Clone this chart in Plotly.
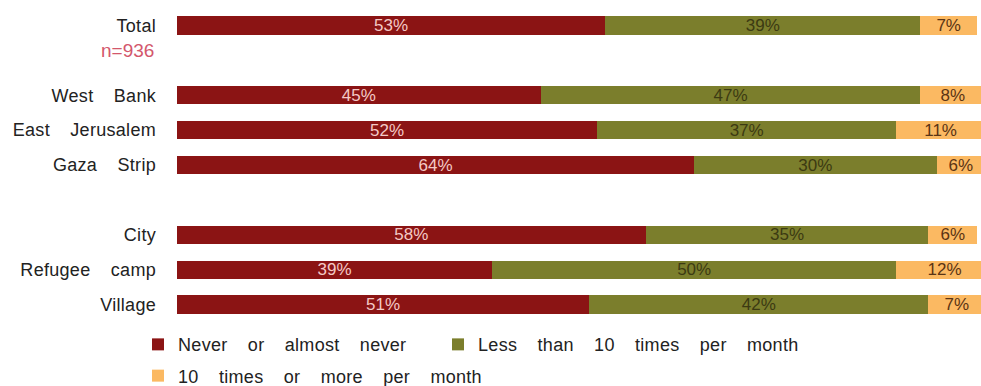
import json
import plotly.graph_objects as go

categories = ["Total", " ", "West Bank", "East Jerusalem", "Gaza Strip", "  ",
              "City", "Refugee camp", "Village"]
never = [53, None, 45, 52, 64, None, 58, 39, 51]
less10 = [39, None, 47, 37, 30, None, 35, 50, 42]
more10 = [7, None, 8, 11, 6, None, 6, 12, 7]
series_names = ["Never or almost never", "Less than 10 times per month",
                "10 times or more per month"]
sample_note = "n=936"

FONT = "Liberation Sans, Arial, sans-serif"
colors = ["#8b1414", "#7b7e2c", "#fbb962"]
text_colors = ["#f4c9c6", "#3c3a12", "#5a3414"]
legends = ["legend", "legend2", "legend3"]

fig = go.Figure()
for name, vals, col, tcol, lg in zip(series_names, [never, less10, more10], colors, text_colors, legends):
    fig.add_trace(go.Bar(
        y=categories, x=vals, name=name, orientation="h", legend=lg,
        marker=dict(color=col, line=dict(width=0)),
        text=[f"{v}%" if v is not None else "" for v in vals],
        textposition="inside", insidetextanchor="middle", textangle=0,
        constraintext="none",
        textfont=dict(family=FONT, size=17, color=tcol),
    ))

fig.add_annotation(x=0, xref="paper", xanchor="right", xshift=-21,
                   y=" ", yref="y", yshift=10, text=sample_note, showarrow=False,
                   font=dict(family=FONT, size=19, color="#d3576c"))

legend_common = dict(orientation="h", xref="container", yref="container",
                     xanchor="left", yanchor="top", traceorder="normal",
                     font=dict(family=FONT, size=18, color="#222"),
                     bgcolor="rgba(0,0,0,0)")

fig.update_layout(
    width=981, height=386,
    barmode="stack", bargap=0.48,
    margin=dict(l=177, r=0, t=8, b=64, autoexpand=False),
    paper_bgcolor="white", plot_bgcolor="white",
    font=dict(family=FONT, size=18, color="#222"),
    xaxis=dict(range=[0, 99.5], visible=False, fixedrange=True),
    yaxis=dict(categoryorder="array", categoryarray=categories, autorange="reversed",
               showgrid=False, zeroline=False, showline=False, ticks="",
               ticklabelstandoff=20, tickfont=dict(family=FONT, size=18, color="#222"),
               automargin=False),
    legend=dict(x=0.1407, y=0.155, **legend_common),
    legend2=dict(x=0.4465, y=0.155, **legend_common),
    legend3=dict(x=0.1407, y=0.074, **legend_common),
    showlegend=True,
)

spaced_texts = json.dumps(series_names + [c for c in categories if c.strip()])
post = """
document.body.style.margin = '0';
var wanted = %s;
document.querySelectorAll('text').forEach(function (t) {
  var u = t.getAttribute('data-unformatted');
  if (u === null) { u = t.textContent; }
  if (wanted.indexOf(u) >= 0) {
    t.style.wordSpacing = '15px';
    t.style.letterSpacing = '0.3px';
  }
});
document.querySelectorAll('[class^="legend"], [class^="legend"] *').forEach(function (e) {
  if (e.hasAttribute && e.hasAttribute('clip-path')) { e.removeAttribute('clip-path'); }
});
""" % spaced_texts

fig.write_html("out.html", post_script=post, config={"displayModeBar": False})
